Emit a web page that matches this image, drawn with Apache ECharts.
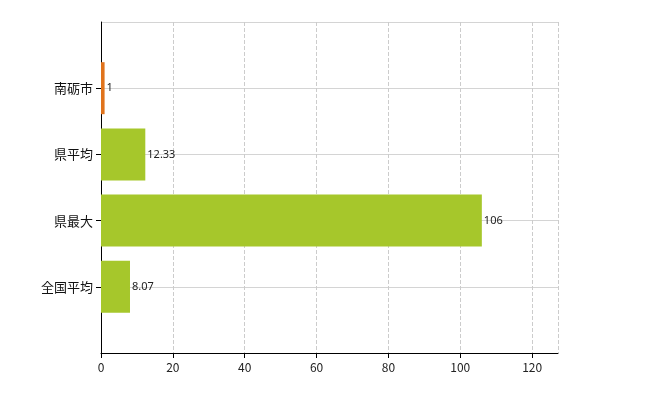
<!DOCTYPE html>
<html>
<head>
<meta charset="utf-8">
<script src="https://cdn.jsdelivr.net/npm/echarts@6/dist/echarts.min.js"></script>
<style>body{margin:0;background:#fff}#main{width:650px;height:400px}</style>
</head>
<body>
<div id="main"></div>
<script>
var categories = ['', '全国平均', '県最大', '県平均', '南砺市', ''];
var values = [null, 8.07, 106, 12.33, 1, null];
var barColors = ['#a6c72b', '#a6c72b', '#a6c72b', '#a6c72b', '#e0731c', '#a6c72b'];
var chart = echarts.init(document.getElementById('main'));
chart.setOption({
  animation: false,
  grid: { left: 101, right: 92, top: 22, bottom: 47 },
  xAxis: {
    type: 'value', min: 0, max: 127.2, interval: 20,
    axisLine: { show: true, lineStyle: { color: '#000' } },
    axisTick: { show: true, length: 5, lineStyle: { color: '#000' } },
    axisLabel: { color: '#222', fontSize: 12, fontFamily: 'Noto Sans CJK JP', showMaxLabel: false },
    splitLine: { lineStyle: { color: '#ccc', type: 'dashed' } }
  },
  yAxis: {
    type: 'category', data: categories, boundaryGap: false,
    axisLine: { show: true, lineStyle: { color: '#000' } },
    axisTick: { show: true, length: 5, lineStyle: { color: '#000' }, interval: function (i) { return i > 0 && i < 5; } },
    axisLabel: { color: '#111', fontSize: 13, fontFamily: 'Noto Sans CJK JP', margin: 8 },
    splitLine: { show: true, lineStyle: { color: '#d4d4d4' } }
  },
  series: [{
    type: 'bar', barWidth: 52,
    data: values.map(function (v, i) { return { value: v, itemStyle: { color: barColors[i] } }; }),
    label: { show: true, position: 'right', distance: 2, fontSize: 11, color: '#222', fontFamily: 'Noto Sans' }
  }, {
    type: 'bar', barWidth: 52, barGap: '-100%', data: [], silent: true
  }]
});
</script>
</body>
</html>
